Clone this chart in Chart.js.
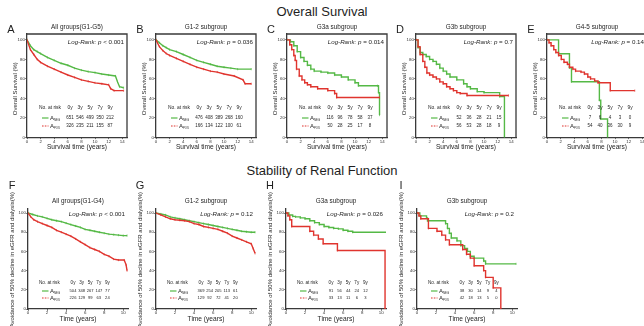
<!DOCTYPE html>
<html>
<head>
<meta charset="utf-8">
<script src="https://cdn.jsdelivr.net/npm/chart.js@4.4.1/dist/chart.umd.min.js"></script>
<style>
  html, body { margin:0; padding:0; background:#fff; }
  body { width:644px; height:326px; position:relative; overflow:hidden;
         font-family:"Liberation Sans", Arial, Helvetica, sans-serif; color:#1e1e1e; }
  .head  { position:absolute; left:0; width:644px; text-align:center; font-size:13px; line-height:14px; }
  .panel { position:absolute; }
</style>
</head>
<body>
<div class="head" style="top:5px">Overall Survival</div>
<div class="head" style="top:164px">Stability of Renal Function</div>

<script>
/* ---------- 0.  Data -------------------------------------- */
// Overall survival (top row), time in years / survival in %
const A_NEG_T = [0, 0.5, 1, 1.5, 2, 3, 4, 5, 6, 7, 8, 9, 10, 11, 12, 13, 13.3, 13.6, 14.2];
const A_NEG_S = [100, 94, 90, 88, 86, 82, 79, 76, 74, 71, 69, 67.5, 66.5, 65, 64, 63, 57, 52, 51];
const A_POS_T = [0, 0.5, 1, 1.5, 2, 3, 4, 5, 6, 7, 8, 9, 10, 11, 12, 12.3, 12.8, 14.2];
const A_POS_S = [100, 90, 85, 80, 77, 73, 70, 67, 64, 61.5, 59, 57.5, 56, 55, 54, 50, 48, 48];

const B_NEG_T = [0, 0.5, 1, 1.5, 2, 3, 4, 5, 6, 7, 8, 9, 10, 11, 12, 14];
const B_NEG_S = [100, 97, 94, 92, 90, 88, 85, 82, 79, 77, 75, 73, 72, 71, 70, 70];
const B_POS_T = [0, 0.5, 1, 1.5, 2, 3, 4, 5, 6, 7, 8, 9, 10, 11.5, 12.8, 13.1, 14];
const B_POS_S = [100, 93, 89, 86, 84, 81, 78, 75, 72, 70, 68, 67, 65, 63, 59, 55, 55];

const C_NEG_T = [0, 0.5, 1, 1.5, 2, 2.5, 3, 3.5, 4, 5, 6, 7, 8, 9, 10, 10.5, 13.3, 13.45, 13.6];
const C_NEG_S = [100, 98, 94, 88, 82, 78, 74, 70, 68, 67, 66, 64, 62, 59, 56, 53, 53, 46, 23];
const C_POS_T = [0, 0.4, 0.7, 1, 1.2, 1.4, 1.8, 2.2, 2.6, 3, 3.5, 4.5, 6, 7, 7.3, 13.6];
const C_POS_S = [100, 95, 90, 84, 79, 70, 63, 59, 56, 54, 52, 50, 48, 45, 41, 41];

const D_NEG_T = [0, 0.3, 0.6, 1, 1.5, 2, 2.5, 3, 3.5, 4, 4.5, 5, 6, 7, 7.5, 8, 9, 10, 12.3, 13];
const D_NEG_S = [100, 92, 87, 85, 83, 80, 78, 75, 71, 68, 65, 62, 59, 55, 52, 50, 47, 46, 42, 0];
const D_POS_T = [0, 0.3, 0.6, 1, 1.3, 1.6, 2, 2.5, 3, 3.5, 4, 4.5, 5, 5.5, 6, 6.5, 7.5, 13.6];
const D_POS_S = [100, 93, 85, 78, 72, 66, 64, 62, 60, 57, 55, 52, 50, 48, 46, 45, 43, 43];

const E_NEG_T = [0, 1.7, 3.3, 3.6, 7.7, 7.9, 8.9];
const E_NEG_S = [100, 85.7, 71.4, 57.1, 38.1, 19, 0];
const E_POS_T = [0, 0.3, 0.6, 1, 1.3, 1.7, 2.1, 2.5, 3, 3.3, 3.8, 4.2, 5, 5.5, 6, 6.4, 7, 7.5, 9.3, 12.9];
const E_POS_S = [100, 97, 94, 90, 87, 84, 80, 77, 75, 72, 70, 68, 67, 65, 62, 60, 58, 56, 48, 48];

// Renal function (bottom row)
const F_NEG_T = [0, 0.5, 1, 1.5, 2, 2.5, 3, 3.5, 4, 4.5, 5, 5.5, 6, 6.5, 7, 7.5, 8, 8.5, 9, 9.5, 10, 10.4];
const F_NEG_S = [100, 98.5, 97, 96, 94.5, 93, 92, 91, 89.5, 88, 86.5, 85, 83, 82, 81, 80, 79, 78, 77.5, 77, 76.5, 76.5];
const F_POS_T = [0, 0.3, 0.6, 1, 1.5, 2, 2.5, 3, 3.5, 4, 4.5, 5, 5.5, 6, 6.5, 7, 7.5, 8, 8.5, 9, 9.5, 10.1, 10.3, 10.4];
const F_POS_S = [100, 96, 93, 91, 89, 87, 85, 82, 80, 78, 76, 73, 70, 67, 64, 62, 60, 57, 55, 52, 51, 51, 46, 40];

const G_NEG_T = [0, 0.5, 1, 1.5, 2, 2.5, 3, 3.5, 4, 4.5, 5, 5.5, 6, 6.5, 7, 7.5, 8, 8.5, 9, 9.5, 10, 10.4];
const G_NEG_S = [100, 99, 98, 96, 95, 94, 93, 92, 91, 90, 89, 88, 87, 86, 85, 84, 83, 82, 81, 80.5, 80, 80];
const G_POS_T = [0, 0.5, 1, 1.5, 2, 2.5, 3, 3.5, 4, 4.5, 5, 5.5, 6, 6.5, 7, 7.5, 8, 8.5, 9, 9.5, 10, 10.2, 10.4];
const G_POS_S = [100, 98, 96, 94, 93, 92.5, 92, 91, 89, 88, 86, 85, 84, 83, 81, 79, 76, 74, 72, 70, 68, 63, 58];

const H_NEG_T = [0, 0.3, 0.7, 1, 1.5, 2, 2.5, 3, 3.5, 4, 4.5, 5, 5.5, 6, 6.5, 7, 10.6];
const H_NEG_S = [100, 98, 96.5, 96, 95, 94, 92, 90, 88, 86, 85, 84, 83.5, 82, 81, 80, 80];
const H_POS_T = [0, 0.2, 0.4, 0.6, 2.5, 2.9, 3.4, 3.9, 5.4, 10.4];
const H_POS_S = [100, 97, 93, 86, 81, 77, 73, 68, 61, 0];

const I_NEG_T = [0, 0.3, 1, 1.1, 3.0, 3.2, 3.4, 3.6, 4.2, 4.6, 5.0, 5.3, 5.6, 6.0, 7.0, 7.2, 10.4];
const I_NEG_S = [100, 97, 95, 92, 89, 84, 79, 74, 71, 66, 63, 60, 55, 53, 50, 47, 47];
const I_POS_T = [0, 0.2, 0.4, 1.2, 2.1, 2.6, 3.0, 3.4, 4.8, 5.2, 5.6, 6.0, 7.0, 7.2, 8.0, 8.8];
const I_POS_S = [100, 97, 94, 84, 81, 77, 72, 67, 62, 57, 53, 45, 40, 33, 22, 0];

// Panel texts
const TOP_LETTERS = ['A', 'B', 'C', 'D', 'E'];
const TOP_TITLES  = ['All groups(G1-G5)', 'G1-2 subgroup', 'G3a subgroup', 'G3b subgroup', 'G4-5 subgroup'];
const TOP_P       = ['< 0.001', '= 0.036', '= 0.014', '= 0.7', '= 0.14'];
const BOT_LETTERS = ['F', 'G', 'H', 'I'];
const BOT_TITLES  = ['All groups(G1-G4)', 'G1-2 subgroup', 'G3a subgroup', 'G3b subgroup'];
const BOT_P       = ['< 0.001', '= 0.12', '= 0.026', '= 0.2'];
const RISK_YEARS  = ['0y', '3y', '5y', '7y', '9y'];

// Numbers at risk: [A_NEG row, A_POS row]
const RISK_A = [[651, 546, 499, 350, 212], [326, 235, 211, 155, 87]];
const RISK_B = [[476, 408, 389, 268, 160], [166, 134, 122, 100, 61]];
const RISK_C = [[116, 96, 78, 58, 37], [50, 28, 25, 17, 8]];
const RISK_D = [[52, 36, 28, 21, 15], [56, 53, 28, 18, 9]];
const RISK_E = [[7, 6, 4, 3, 0], [54, 40, 36, 30, 9]];
const RISK_F = [[504, 348, 267, 147, 77], [226, 129, 99, 63, 24]];
const RISK_G = [[369, 254, 205, 113, 61], [129, 92, 72, 41, 20]];
const RISK_H = [[91, 56, 44, 24, 12], [33, 13, 11, 6, 3]];
const RISK_I = [[38, 30, 14, 9, 4], [42, 18, 13, 5, 0]];

const X_TICKS_TOP = [0, 2, 4, 6, 8, 10, 12, 14];
const X_TICKS_BOT = [0, 2, 4, 6, 8, 10];
const Y_TICKS     = [0, 20, 40, 60, 80, 100];

/* ---------- 1.  Look ---------------------------------------- */
const FONT  = '"Liberation Sans", Arial, Helvetica, sans-serif';
const GREEN = '#55b946', RED = '#e0342e', AXIS = '#3a3a3a', INK = '#1e1e1e';

/* ---------- 2.  Text / box overlay plugin ------------------- */
const kmDecor = {
  id: 'kmDecor',
  afterDraw(chart, args, o) {
    const {ctx, chartArea: a} = chart;
    const L = a.left, T = a.top, R = a.right, B = a.bottom;
    ctx.save();
    ctx.fillStyle = INK; ctx.textBaseline = 'middle';

    if (o.box) {                       // top + right edge of frame
      ctx.strokeStyle = AXIS; ctx.lineWidth = 1.3;
      ctx.beginPath(); ctx.moveTo(L, T); ctx.lineTo(R, T); ctx.lineTo(R, B); ctx.stroke();
    }

    ctx.textAlign = 'center';
    ctx.font = `11px ${FONT}`;
    ctx.fillText(o.letter, L - 16, T + o.letterDy);

    ctx.font = `6.4px ${FONT}`;
    ctx.fillText(o.title, (L + R) / 2, T + o.titleDy);

    // Log-Rank: p ...
    const xe = R - 3, yl = T + o.pDy;
    ctx.font = `6.2px ${FONT}`;
    const w2 = ctx.measureText(' ' + o.p).width;
    ctx.textAlign = 'left';  ctx.fillText(' ' + o.p, xe - w2, yl);
    ctx.font = `italic 6.2px ${FONT}`;
    ctx.textAlign = 'right'; ctx.fillText('Log-Rank: p', xe - w2, yl);

    // x title
    ctx.textAlign = 'center'; ctx.font = `6.6px ${FONT}`;
    ctx.fillText(o.xTitle, (L + R) / 2, B + 10);

    // y title (rotated)
    ctx.save();
    ctx.font = `6px ${FONT}`;
    if (o.yTop != null) {
      ctx.translate(L - o.yDx, T + o.yTop); ctx.rotate(-Math.PI / 2);
      ctx.textAlign = 'right'; ctx.fillText(o.yTitle, 0, 0);
    } else {
      ctx.translate(L - o.yDx, (T + B) / 2 + 3); ctx.rotate(-Math.PI / 2);
      ctx.textAlign = 'center'; ctx.fillText(o.yTitle, 0, 0);
    }
    ctx.restore();

    // risk table
    const r = o.riskGeo, fh = `${r.head_font}px ${FONT}`, fn = `${r.font}px ${FONT}`;
    ctx.font = fh;
    ctx.textAlign = 'left';
    ctx.fillText('No. at risk', L + r.label, T + r.head);
    ctx.textAlign = 'center';
    RISK_YEARS.forEach((y, i) => ctx.fillText(y, L + r.col0 + r.colStep * i, T + r.head));
    [[GREEN, 'NEG', []], [RED, 'POS', [1.6, 1.2]]].forEach(([c, sub, dash], k) => {
      const yy = T + r.rows[k];
      ctx.strokeStyle = c; ctx.lineWidth = 1.2; ctx.setLineDash(dash);
      ctx.beginPath(); ctx.moveTo(L + r.leg, yy); ctx.lineTo(L + r.leg + 6.5, yy); ctx.stroke();
      ctx.setLineDash([]);
      ctx.textAlign = 'left'; ctx.font = `6px ${FONT}`;
      ctx.fillText('A', L + r.leg + 8, yy);
      ctx.font = `2.8px ${FONT}`;
      ctx.fillText(sub, L + r.leg + 12, yy + 1.8);
      ctx.font = fn; ctx.textAlign = 'center';
      o.risk[k].forEach((v, i) => ctx.fillText(String(v), L + r.col0 + r.colStep * i, yy));
    });
    ctx.restore();
  }
};

/* ---------- 3.  Panel builder ------------------------------ */
const pts = (t, s) => t.map((x, i) => ({x, y: s[i]}));

function curve(t, s, color, stepped) {
  return {
    data: pts(t, s), borderColor: color, borderWidth: 1.4, stepped, fill: false,
    pointStyle: 'line', pointRotation: 90, pointRadius: 1.1, pointBorderWidth: 0.7,
    pointBorderColor: color, pointBackgroundColor: color
  };
}

function panel(left, row, series, deco) {
  const g = row === 'top'
    ? {top: 20,  w: 135, h: 145, pad: {left: 17, top: 14, right: 8, bottom: 17.5}, xMax: 14.7, yMax: 106, ticks: X_TICKS_TOP}
    : {top: 178, w: 134, h: 148, pad: {left: 18, top: 31, right: 6, bottom: 7},    xMax: 10.5, yMax: 104.2, ticks: X_TICKS_BOT};

  const wrap = document.createElement('div');
  wrap.className = 'panel';
  wrap.style.left = (left - g.pad.left - 10) + 'px';
  wrap.style.top  = g.top + 'px';
  const cv = document.createElement('canvas');
  cv.width = g.w; cv.height = g.h;
  cv.style.width = g.w + 'px'; cv.style.height = g.h + 'px';
  wrap.appendChild(cv);
  document.body.appendChild(wrap);

  const tickFont = {size: 4.4, family: FONT};
  new Chart(cv, {
    type: 'line',
    data: {datasets: series},
    options: {
      responsive: false, animation: false, devicePixelRatio: 1,
      layout: {padding: g.pad},
      plugins: {legend: {display: false}, tooltip: {enabled: false}, kmDecor: deco},
      scales: {
        x: {
          type: 'linear', min: 0, max: g.xMax,
          afterBuildTicks: s => { s.ticks = g.ticks.map(v => ({value: v})); },
          afterFit: s => { s.height = 10; },
          ticks: {font: tickFont, color: '#333', padding: 0, maxRotation: 0, autoSkip: false},
          grid: {drawOnChartArea: false, drawTicks: true, tickLength: 1.6, color: AXIS, lineWidth: 1},
          border: {color: AXIS, width: 1.3}
        },
        y: {
          min: 0, max: g.yMax,
          afterBuildTicks: s => { s.ticks = Y_TICKS.map(v => ({value: v})); },
          afterFit: s => { s.width = 10; },
          ticks: {font: tickFont, color: '#333', padding: 0.5},
          grid: {drawOnChartArea: false, drawTicks: true, tickLength: 1.6, color: AXIS, lineWidth: 1},
          border: {color: AXIS, width: 1.3}
        }
      }
    },
    plugins: [kmDecor]
  });
}

/* ---------- 4.  Build the nine panels ---------------------- */
// [neg t, neg s, pos t, pos s, risk, stepped]
const TOP_SERIES = [
  [A_NEG_T, A_NEG_S, A_POS_T, A_POS_S, RISK_A, false],
  [B_NEG_T, B_NEG_S, B_POS_T, B_POS_S, RISK_B, false],
  [C_NEG_T, C_NEG_S, C_POS_T, C_POS_S, RISK_C, true],
  [D_NEG_T, D_NEG_S, D_POS_T, D_POS_S, RISK_D, true],
  [E_NEG_T, E_NEG_S, E_POS_T, E_POS_S, RISK_E, true]
];
const BOT_SERIES = [
  [F_NEG_T, F_NEG_S, F_POS_T, F_POS_S, RISK_F, false],
  [G_NEG_T, G_NEG_S, G_POS_T, G_POS_S, RISK_G, false],
  [H_NEG_T, H_NEG_S, H_POS_T, H_POS_S, RISK_H, true],
  [I_NEG_T, I_NEG_S, I_POS_T, I_POS_S, RISK_I, true]
];
const TOP_LEFTS = [27, 156, 287, 416, 547];
const BOT_LEFTS = [28, 156, 286, 417];

TOP_SERIES.forEach(([nt, ns, pt, ps, risk, st], i) => {
  panel(TOP_LEFTS[i], 'top',
    [curve(pt, ps, RED, st), curve(nt, ns, GREEN, st)],
    {box: true, letter: TOP_LETTERS[i], letterDy: -4, title: TOP_TITLES[i], titleDy: -7,
     p: TOP_P[i], pDy: 8, xTitle: 'Survival time (years)', yTitle: 'Overall Survival (%)', yDx: 12,
     risk, riskGeo: {head_font: 4.9, font: 4.5, label: 12, col0: 43, colStep: 10, head: 74, rows: [84, 92], leg: 15}});
});

BOT_SERIES.forEach(([nt, ns, pt, ps, risk, st], i) => {
  panel(BOT_LEFTS[i], 'bottom',
    [curve(pt, ps, RED, st), curve(nt, ns, GREEN, st)],
    {box: false, letter: BOT_LETTERS[i], letterDy: -23, title: BOT_TITLES[i], titleDy: -8,
     p: BOT_P[i], pDy: 5, xTitle: 'Time (years)',
     yTitle: 'Avoidance of 50% decline in eGFR and dialysis(%)', yDx: 16, yTop: -17,
     risk, riskGeo: {head_font: 4.6, font: 4.1, label: 11, col0: 45, colStep: 8.6, head: 74, rows: [82, 89], leg: 14}});
});
</script>
</body>
</html>
